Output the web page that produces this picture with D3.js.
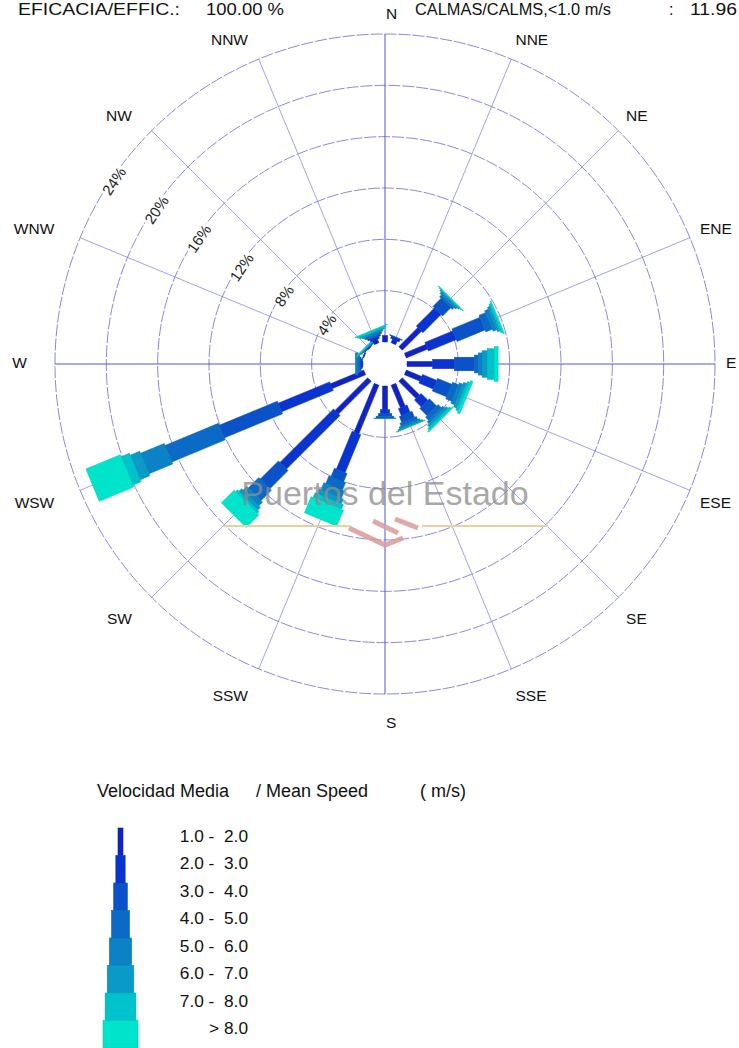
<!DOCTYPE html>
<html><head><meta charset="utf-8">
<script src="https://cdn.jsdelivr.net/npm/d3@7"></script>
<style>body{margin:0;background:#fff;} svg{display:block;font-family:"Liberation Sans",Arial,Helvetica,sans-serif;}</style>
</head><body><svg id="chart" width="739" height="1048"></svg>
<script>
// ---- DATA ----
const directions = ["N","NNE","NE","ENE","E","ESE","SE","SSE","S","SSW","SW","WSW","W","WNW","NW","NNW"];
const speedLabels = ["1.0 -  2.0","2.0 -  3.0","3.0 -  4.0","4.0 -  5.0","5.0 -  6.0","6.0 -  7.0","7.0 -  8.0","> 8.0"];
// frequency (%) per direction, one array per speed class
const freq_1_2 = [0.50,0.30,2.10,1.80,2.00,1.30,1.90,1.90,1.85,4.10,3.60,2.80,0.05,0.05,0.05,0.30];
const freq_2_3 = [0.00,0.20,2.00,2.35,1.70,1.20,0.75,0.60,0.30,3.20,5.90,4.35,0.10,0.03,0.03,0.15];
const freq_3_4 = [0.00,0.05,0.90,2.35,1.55,1.20,0.80,0.50,0.20,0.70,2.00,4.90,0.10,0.00,0.03,0.15];
const freq_4_5 = [0.00,0.00,0.20,0.55,0.30,0.50,0.35,0.25,0.15,0.65,1.15,4.50,0.15,0.00,0.03,0.15];
const freq_5_6 = [0.00,0.00,0.15,0.30,0.30,0.30,0.20,0.15,0.05,0.60,0.40,2.00,0.20,0.00,0.03,0.10];
const freq_6_7 = [0.00,0.00,0.10,0.20,0.40,0.25,0.20,0.10,0.00,0.40,0.30,0.80,0.00,0.00,0.03,0.10];
const freq_7_8 = [0.00,0.00,0.05,0.15,0.55,0.20,0.15,0.05,0.00,0.40,0.20,0.70,0.00,0.00,0.10,0.10];
const freq_gt8 = [0.00,0.00,0.05,0.10,0.30,0.20,0.10,0.00,0.00,1.35,1.40,2.90,0.00,0.00,0.00,0.05];
const ringValues = [4,8,12,16,20,24];
const ringLabels = ["4%","8%","12%","16%","20%","24%"];
const efficacy = "100.00 %";
const calms = "11.96";

// ---- SETUP ----
const classes = [freq_1_2,freq_2_3,freq_3_4,freq_4_5,freq_5_6,freq_6_7,freq_7_8,freq_gt8];
const colors = ["#1024c4","#0a34d0","#0a52c8","#0a6ac6","#0a82c6","#0a9ac8","#00c2cc","#00e4cc"];
const svg = d3.select("#chart");
const cx = 385, cy = 364;
const r = d3.scaleLinear().domain([0,24]).range([22,330]);
const angle = d3.scalePoint().domain(directions).range([0, 337.5]);
const widthScale = d3.scaleLinear().domain([0,7]).range([5,35]);
const rad = a => a*Math.PI/180;

const g = svg.append("g").attr("transform",`translate(${cx},${cy})`);

// rings
g.selectAll("circle.ring").data(ringValues).join("circle")
  .attr("class","ring").attr("r",d=>r(d)).attr("fill","none")
  .attr("stroke","#6a6ad8").attr("stroke-width",0.8).attr("stroke-dasharray","12,2");

// spokes
g.selectAll("line.spoke").data(directions).join("line")
  .attr("class","spoke")
  .attr("x1",0).attr("y1",0)
  .attr("x2",d=>r(24)*Math.sin(rad(angle(d))))
  .attr("y2",d=>-r(24)*Math.cos(rad(angle(d))))
  .attr("stroke",(d,i)=> i%4===0 ? "#5555d4" : "#7a7adc")
  .attr("stroke-width",(d,i)=> i%4===0 ? 1 : 0.7);

// ring labels
const labAngle = 304;
const rl = g.selectAll("g.rl").data(ringValues).join("g")
  .attr("transform",d=>`translate(${(r(d)-3)*Math.sin(rad(labAngle))},${-(r(d)-3)*Math.cos(rad(labAngle))}) rotate(${labAngle-360})`);
rl.append("rect").attr("x",(d,i)=>-ringLabels[i].length*4.9-2).attr("y",-8)
  .attr("width",(d,i)=>ringLabels[i].length*9.8+4).attr("height",16).attr("fill","#fff");
rl.append("text").text((d,i)=>ringLabels[i]).attr("text-anchor","middle")
  .attr("dy","0.36em").attr("font-size",15).attr("fill","#222");

// bars
const segs = [];
directions.forEach((d,di)=>{
  let cum = 0;
  classes.forEach((arr,ci)=>{
    const v = arr[di];
    if (v>0) segs.push({dir:d, ci, start:cum, end:cum+v});
    cum += v;
  });
});
g.selectAll("rect.seg").data(segs).join("rect")
  .attr("class","seg")
  .attr("transform",d=>`rotate(${angle(d.dir)})`)
  .attr("x",d=>-widthScale(d.ci)/2)
  .attr("width",d=>widthScale(d.ci))
  .attr("y",d=>-r(d.end))
  .attr("height",d=>r(d.end)-r(d.start))
  .attr("fill",d=>colors[d.ci])
  .attr("stroke",d=>d3.color(colors[d.ci]).darker(0.3))
  .attr("stroke-width",0.5);

// calm circle
g.append("circle").attr("r",r(0)-0.5).attr("fill","#fff");

// direction labels
g.selectAll("text.dir").data(directions).join("text")
  .attr("class","dir")
  .attr("font-size",15.5).attr("fill","#111")
  .attr("text-anchor",d=>{const s=Math.sin(rad(angle(d))); return Math.abs(s)<0.01?"start":(s>0?"start":"end");})
  .attr("x",d=>{const s=Math.sin(rad(angle(d))); return Math.abs(s)<0.01?1:(s>0?341*s:358*s);})
  .attr("y",d=>{const c=Math.cos(rad(angle(d))); return c < -0.1 ? -355*c + 3 : -349*c - 2;})
  .attr("dy","0.36em")
  .text(d=>d);

// header
const hdr = svg.append("g").attr("font-size",16).attr("fill","#111");
hdr.append("text").attr("x",18).attr("y",15).attr("textLength",162).attr("lengthAdjust","spacingAndGlyphs").text("EFICACIA/EFFIC.:");
hdr.append("text").attr("x",206).attr("y",15).attr("textLength",78).attr("lengthAdjust","spacingAndGlyphs").text(efficacy);
hdr.append("text").attr("x",415).attr("y",15).attr("textLength",196).attr("lengthAdjust","spacingAndGlyphs").text("CALMAS/CALMS,<1.0 m/s");
hdr.append("text").attr("x",669).attr("y",15).text(":");
hdr.append("text").attr("x",690).attr("y",15).attr("textLength",47).attr("lengthAdjust","spacingAndGlyphs").text(calms);

// watermark
const wm = svg.append("g");
wm.append("line").attr("x1",223).attr("x2",350).attr("y1",526).attr("y2",526).attr("stroke","#e6d29a").attr("stroke-width",2);
wm.append("line").attr("x1",422).attr("x2",548).attr("y1",526).attr("y2",526).attr("stroke","#e6d29a").attr("stroke-width",2);
wm.append("path").attr("d","M349,528 L385,545 L403,538 M373,521 L398,533 M395,519 L418,528")
  .attr("fill","none").attr("stroke","#d99a9a").attr("stroke-width",5).attr("opacity",0.85);
wm.append("text").attr("x",385).attr("y",505).attr("text-anchor","middle").attr("font-size",34)
  .attr("fill","#8c8c8c").attr("opacity",0.75).text("Puertos del Estado");

// legend
const lg = svg.append("g").attr("fill","#111");
lg.append("text").attr("x",97).attr("y",797).attr("font-size",18).text("Velocidad Media");
lg.append("text").attr("x",256).attr("y",797).attr("font-size",18).text("/ Mean Speed");
lg.append("text").attr("x",420).attr("y",797).attr("font-size",18).text("( m/s)");
const ly = d3.scaleBand().domain(speedLabels).range([828, 1048]).padding(0);
lg.selectAll("rect.lk").data(speedLabels).join("rect")
  .attr("class","lk")
  .attr("x",(d,i)=>120.5-widthScale(i)/2).attr("width",(d,i)=>widthScale(i))
  .attr("y",d=>ly(d)).attr("height",ly.bandwidth())
  .attr("fill",(d,i)=>colors[i]).attr("stroke",(d,i)=>d3.color(colors[i]).darker(0.4)).attr("stroke-width",0.6);
lg.selectAll("text.ll").data(speedLabels).join("text")
  .attr("class","ll").attr("x",248).attr("text-anchor","end")
  .attr("y",d=>ly(d)+ly.bandwidth()/2-6).attr("dy","0.36em")
  .attr("font-size",17.3).style("white-space","pre").text(d=>d);
</script></body></html>
